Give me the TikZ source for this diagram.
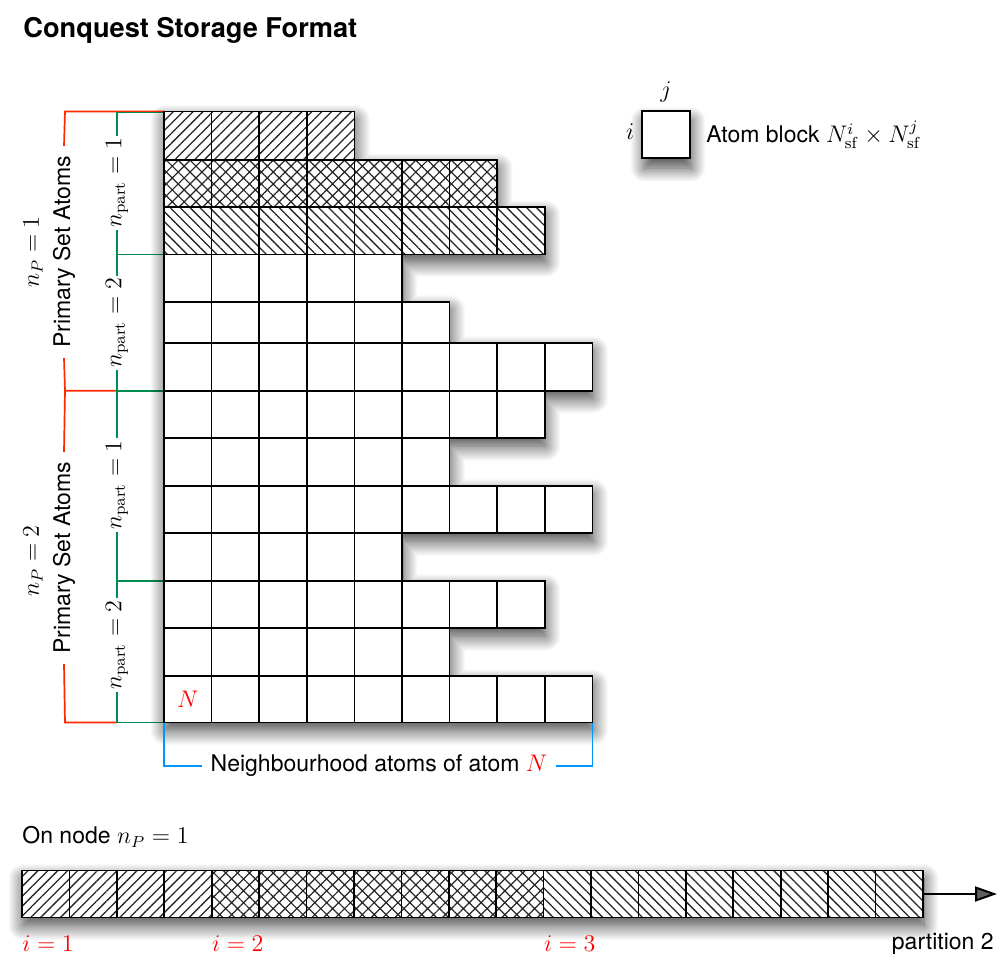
\documentclass[tikz,border=0pt]{standalone}
\usepackage[no-math]{fontspec}
\setmainfont{TeX Gyre Heros}
\usetikzlibrary{patterns.meta,shadows.blur,arrows.meta}
\definecolor{bred}{RGB}{255,40,0}
\definecolor{bgreen}{RGB}{0,140,80}
\definecolor{bblue}{RGB}{0,150,255}
\tikzset{
  cell/.style={draw=black,line width=0.85pt},
  hNE/.style={pattern={Lines[angle=45,distance=3.5pt,line width=0.65pt]},pattern color=black!85},
  hNW/.style={pattern={Lines[angle=-45,distance=3.5pt,line width=0.65pt]},pattern color=black!85},
  hX/.style={pattern={Hatch[angle=45,distance=4.2pt,line width=0.6pt]},pattern color=black!85},
  shade/.style={fill=white,blur shadow={shadow xshift=0.5pt,shadow yshift=-4pt,shadow blur radius=7.5pt,shadow blur steps=20,shadow opacity=75}},
  redline/.style={draw=bred,line width=0.85pt},
  greenline/.style={draw=bgreen,line width=0.85pt},
  blueline/.style={draw=bblue,line width=0.85pt},
  txt/.style={font=\fontsize{11.5}{14}\selectfont,inner sep=0pt},
  vlab/.style={txt,rotate=90,fill=white},
}
\begin{document}
\begin{tikzpicture}[x=0.5pt,y=-0.5pt]
\useasboundingbox (0,0) rectangle (1005,968);

% title
\node[anchor=base west,font=\fontsize{13.6}{16}\selectfont\bfseries,inner sep=0pt] (title) at (23,38) {Conquest Storage Format};

% left labels
\node[vlab,inner xsep=5pt] (psa1) at (64,252) {Primary Set Atoms};
\node[vlab,inner xsep=5pt] (psa2) at (64,558) {Primary Set Atoms};
\node[txt,rotate=90] (np1) at (33,252) {$n_P=1$};
\node[txt,rotate=90] (np2) at (33,561) {$n_P=2$};
\node[vlab,inner xsep=1pt] (pt1) at (117,183) {$n_{\mathrm{part}}=1$};
\node[vlab,inner xsep=1pt] (pt2) at (117,323) {$n_{\mathrm{part}}=2$};
\node[vlab,inner xsep=1pt] (pt3) at (117,485) {$n_{\mathrm{part}}=1$};
\node[vlab,inner xsep=1pt] (pt4) at (117,645) {$n_{\mathrm{part}}=2$};

% red brackets
\draw[redline] (164,111.5) -- (65,111.5) -- (psa1.east);
\draw[redline] (psa1.west) -- (65,390.8) -- (117,390.8);
\draw[redline] (65,390.8) -- (psa2.east);
\draw[redline] (psa2.west) -- (65,722.5) -- (117,722.5);
% green brackets
\draw[greenline] (164,112.5) -- (117,112.5) -- (pt1.east);
\draw[greenline] (pt1.west) -- (117,254.5) -- (164,254.5);
\draw[greenline] (117,254.5) -- (pt2.east);
\draw[greenline] (pt2.west) -- (117,390.8) -- (164,390.8);
\draw[greenline] (117,390.8) -- (pt3.east);
\draw[greenline] (pt3.west) -- (117,580.7) -- (164,580.7);
\draw[greenline] (117,580.7) -- (pt4.east);
\draw[greenline] (pt4.west) -- (117,722.5) -- (164,722.5);

% staircase outline with shadow
\fill[shade] (164,111.5) -- (354.4,111.5) -- (354.4,160) -- (497.2,160) -- (497.2,207)
  -- (544.8,207) -- (544.8,254.5) -- (402,254.5) -- (402,301.7) -- (449.6,301.7)
  -- (449.6,342.7) -- (592.4,342.7) -- (592.4,390.8) -- (544.8,390.8) -- (544.8,438.3)
  -- (449.6,438.3) -- (449.6,485.7) -- (592.4,485.7) -- (592.4,533.3) -- (402,533.3)
  -- (402,580.7) -- (544.8,580.7) -- (544.8,628.3) -- (449.6,628.3) -- (449.6,676)
  -- (592.4,676) -- (592.4,722.5) -- (164,722.5) -- cycle;
\fill[hNE] (164,111.5) rectangle (354.4,160);
\fill[hX] (164,160) rectangle (497.2,207);
\fill[hNW] (164,207) rectangle (544.8,254.5);
\foreach \ya/\yb/\n in {111.5/160/4,160/207/7,207/254.5/8,254.5/301.7/5,301.7/342.7/6,342.7/390.8/9,390.8/438.3/8,438.3/485.7/6,485.7/533.3/9,533.3/580.7/5,580.7/628.3/8,628.3/676/6,676/722.5/9}
  \foreach \c in {1,...,\n}
    \draw[cell] ({164+47.6*(\c-1)},\ya) rectangle ({164+47.6*\c},\yb);
\node[txt,text=red] (nN) at (187.8,699) {$N$};

% blue bracket
\node[txt,inner xsep=4pt] (nb) at (379,766) {Neighbourhood atoms of atom \textcolor{red}{$N$}};
\draw[blueline] (164,722.5) -- (164,766) -- (nb.west);
\draw[blueline] (nb.east) -- (592.4,766) -- (592.4,722.5);

% legend
\node[cell,fill=white,minimum width=23.8pt,minimum height=23.5pt,inner sep=0pt,
      blur shadow={shadow xshift=1pt,shadow yshift=-5pt,shadow blur radius=7pt,shadow blur steps=20,shadow opacity=75}] (lbox) at (666,134.5) {};
\node[txt] (lj) at (666,92) {$j$};
\node[txt] (li) at (630,132) {$i$};
\node[txt,anchor=west] (lab) at (706,135) {Atom block $N^i_{\mathrm{sf}}\times N^j_{\mathrm{sf}}$};

% bottom bar
\node[txt,anchor=west] (onnode) at (22,837) {On node $n_P=1$};
\fill[shade] (22,870.5) rectangle (923,917.5);
\fill[hNE] (22,870.5) rectangle (211.7,917.5);
\fill[hX] (211.7,870.5) rectangle (543.6,917.5);
\fill[hNW] (543.6,870.5) rectangle (923,917.5);
\foreach \c in {1,...,19}
  \draw[cell] ({22+47.42*(\c-1)},870.5) rectangle ({22+47.42*\c},917.5);
\coordinate (barE) at (923,894);
\coordinate (arrE) at (997,894);
\draw[line width=1pt,-{Triangle[length=11pt,width=7.5pt]}] (barE) -- (arrE);
\node[txt,anchor=west,text=red] (i1) at (22,944) {$i=1$};
\node[txt,anchor=west,text=red] (i2) at (211.7,944) {$i=2$};
\node[txt,anchor=west,text=red] (i3) at (543.6,944) {$i=3$};
\node[txt,anchor=east] (p2) at (994,944) {partition 2};
\end{tikzpicture}
\end{document}
